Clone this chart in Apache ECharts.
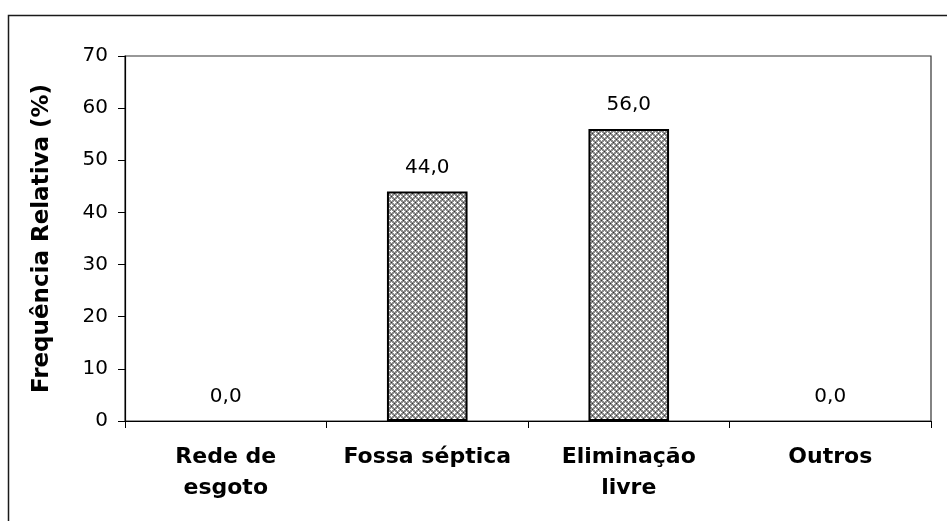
<!DOCTYPE html>
<html>
<head>
<meta charset="utf-8">
<script src="https://cdn.jsdelivr.net/npm/echarts@6/dist/echarts.min.js"></script>
<style>
  html, body { margin: 0; padding: 0; background: #fff; }
  #chart { width: 947px; height: 521px; }
</style>
</head>
<body>
<div id="chart"></div>
<script>
// Destino dos dejetos – frequência relativa (%)
const categories = ['Rede de\nesgoto', 'Fossa séptica', 'Eliminação\nlivre', 'Outros'];
const values = [0.0, 44.0, 56.0, 0.0];
const yTicks = [0, 10, 20, 30, 40, 50, 60, 70];
const yTitle = 'Frequência Relativa (%)';

// Small tiled fill: gray ground with staggered white crosses and dark dots
function makeHatch() {
  const n = 6;
  const c = document.createElement('canvas');
  c.width = n; c.height = n;
  const g = c.getContext('2d');
  g.fillStyle = '#8c8c8c';
  g.fillRect(0, 0, n, n);
  g.fillStyle = '#ffffff';
  const cross = (cx, cy) => {
    [[0, 0], [1, 0], [-1, 0], [0, 1], [0, -1]].forEach(([dx, dy]) => {
      g.fillRect((cx + dx + n) % n, (cy + dy + n) % n, 1, 1);
    });
  };
  cross(1, 1);
  cross(4, 4);
  g.fillStyle = '#333333';
  g.fillRect(4, 1, 1, 1);
  g.fillRect(1, 4, 1, 1);
  return c;
}

const hatch = makeHatch();

// Zero-height bars get no outline so only their value label shows
const barData = values.map(v => ({
  value: v,
  itemStyle: v === 0 ? { borderWidth: 0, opacity: 0 } : undefined
}));

const chart = echarts.init(document.getElementById('chart'), null, { renderer: 'canvas' });

const option = {
  animation: false,
  backgroundColor: '#ffffff',
  textStyle: { fontFamily: 'DejaVu Sans', color: '#000' },
  graphic: [{
    type: 'rect',
    shape: { x: 8.5, y: 15.5, width: 2000, height: 2000 },
    style: { fill: 'none', stroke: '#1a1a1a', lineWidth: 1.5 },
    silent: true
  }],
  grid: {
    left: 125, top: 56, right: 16, bottom: 100,
    show: true, borderColor: '#333', borderWidth: 1.2, backgroundColor: 'transparent'
  },
  xAxis: {
    type: 'category',
    data: categories,
    axisLine: { lineStyle: { color: '#000', width: 1.2 } },
    axisTick: { show: true, length: 7, lineStyle: { color: '#000' } },
    axisLabel: {
      color: '#000', fontFamily: 'DejaVu Sans', fontWeight: 'bold', fontSize: 22,
      lineHeight: 31, margin: 21, interval: 0
    }
  },
  yAxis: {
    type: 'value',
    min: yTicks[0],
    max: yTicks[yTicks.length - 1],
    interval: yTicks[1] - yTicks[0],
    name: yTitle,
    nameLocation: 'middle',
    nameGap: 71,
    nameRotate: 90,
    nameTextStyle: { color: '#000', fontFamily: 'DejaVu Sans', fontWeight: 'bold', fontSize: 23 },
    axisLine: { show: true, lineStyle: { color: '#000', width: 1.2 } },
    axisTick: { show: true, length: 7, lineStyle: { color: '#000' } },
    axisLabel: { color: '#000', fontFamily: 'DejaVu Sans', fontSize: 20, margin: 17 },
    splitLine: { show: false }
  },
  series: [{
    type: 'bar',
    data: barData,
    barWidth: '40%',
    itemStyle: {
      color: { image: hatch, repeat: 'repeat' },
      borderColor: '#000',
      borderWidth: 2
    },
    label: {
      show: true,
      position: 'top',
      distance: 14,
      color: '#000',
      opacity: 1,
      fontFamily: 'DejaVu Sans',
      fontSize: 20,
      formatter: p => p.value.toFixed(1).replace('.', ',')
    }
  }]
};

chart.setOption(option);
</script>
</body>
</html>
